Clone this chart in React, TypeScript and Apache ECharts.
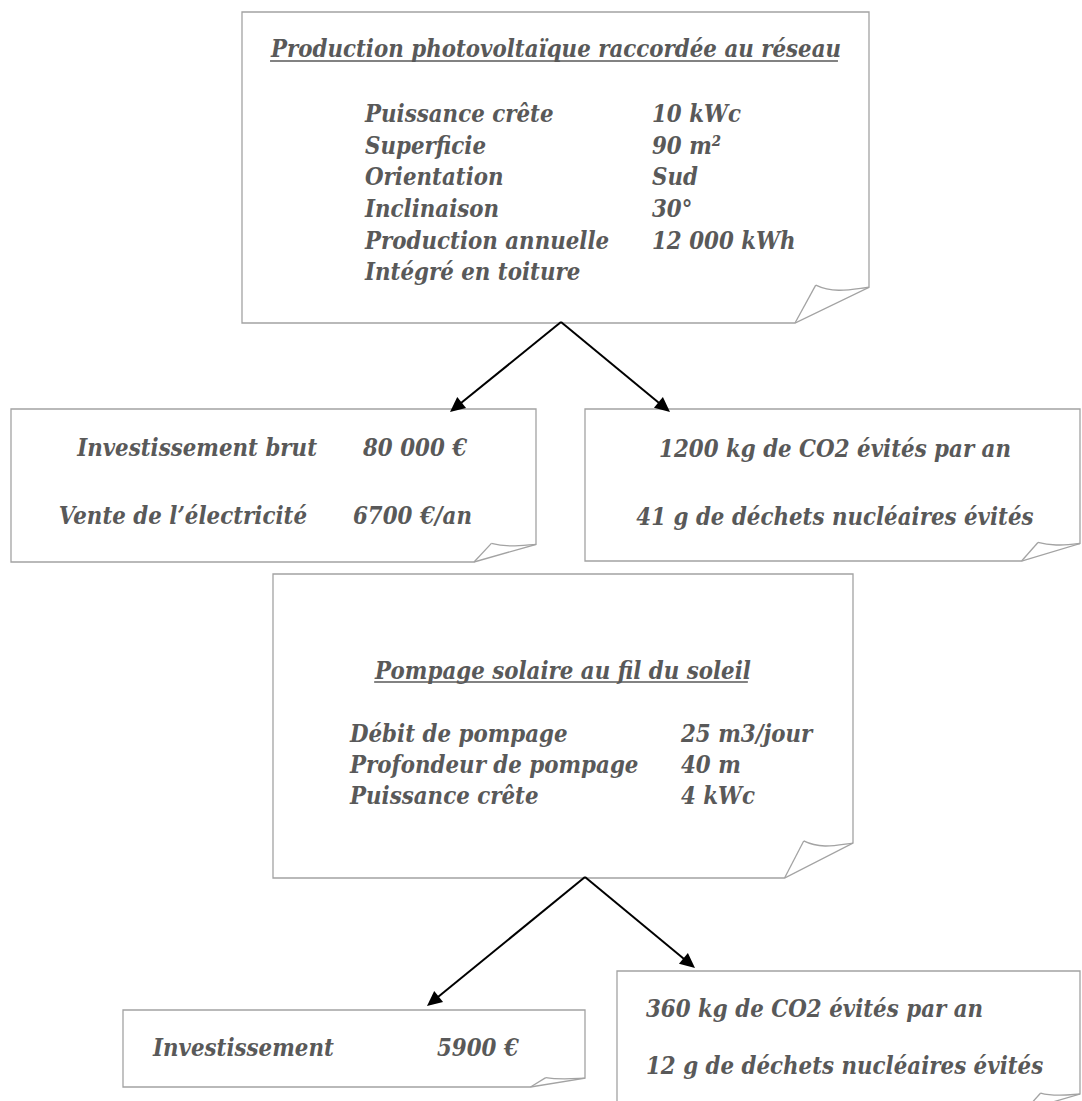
import React, { useEffect, useRef } from "react";
import * as echarts from "echarts";

// ---- content ----
const pvTitle = "Production photovoltaïque raccordée au réseau";
const pvSpecLabels = ["Puissance crête", "Superficie", "Orientation", "Inclinaison", "Production annuelle", "Intégré en toiture"];
const pvSpecValues = ["10 kWc", "90 m²", "Sud", "30°", "12 000 kWh", ""];
const pvFinanceLabels = ["Investissement brut", "Vente de l’électricité"];
const pvFinanceValues = ["80 000 €", "6700 €/an"];
const pvEnvLines = ["1200 kg de CO2 évités par an", "41 g de déchets nucléaires évités"];

const pumpTitle = "Pompage solaire au fil du soleil";
const pumpSpecLabels = ["Débit de pompage", "Profondeur de pompage", "Puissance crête"];
const pumpSpecValues = ["25 m3/jour", "40 m", "4 kWc"];
const pumpFinanceLabels = ["Investissement"];
const pumpFinanceValues = ["5900 €"];
const pumpEnvLines = ["360 kg de CO2 évités par an", "12 g de déchets nucléaires évités"];

// ---- styles ----
const FONT_FAMILY = '"DejaVu Serif", serif';
const TEXT_COLOR = "#595959";
const BORDER = "#a3a3a3";
const TALL = 1.17; // vertical stretch to mimic a taller, narrower face

function measure(text: string, size: number): number {
  const c = document.createElement("canvas");
  const ctx = c.getContext("2d") as CanvasRenderingContext2D;
  ctx.font = `italic bold ${size}px ${FONT_FAMILY}`;
  return ctx.measureText(text).width;
}

function txt(text: string, x: number, y: number, size: number, align: string = "left") {
  return {
    type: "text",
    x,
    y,
    scaleX: 1 / TALL,
    scaleY: 1,
    silent: true,
    z: 10,
    style: {
      text,
      fill: TEXT_COLOR,
      fontSize: size * TALL,
      fontFamily: FONT_FAMILY,
      fontWeight: "bold",
      fontStyle: "italic",
      align,
      verticalAlign: "middle",
      textAlign: align,
      textVerticalAlign: "middle",
    },
  };
}

function foldedBox(L: number, T: number, R: number, B: number) {
  const w = R - L;
  const h = B - T;
  const fw = w * 0.118;
  const fh = h * 0.115;
  const p0x = R - fw;
  const p0y = B;
  const ex = R;
  const ey = B - fh;
  const tx = p0x + fw * 0.28;
  const ty = B - fh * 1.06;
  const st = { stroke: BORDER, lineWidth: 1.3, fill: null };
  return [
    {
      type: "polygon",
      z: 1,
      shape: { points: [[L, T], [R, T], [ex, ey], [p0x, p0y], [L, B]] },
      style: { fill: "#ffffff", stroke: BORDER, lineWidth: 1.3 },
    },
    { type: "line", z: 2, shape: { x1: p0x, y1: p0y, x2: tx, y2: ty }, style: st },
    {
      type: "bezierCurve",
      z: 2,
      shape: {
        x1: tx,
        y1: ty,
        x2: ex,
        y2: ey,
        cpx1: tx + (ex - tx) * 0.35,
        cpy1: ty + fh * 0.25,
        cpx2: tx + (ex - tx) * 0.7,
        cpy2: ey + fh * 0.05,
      },
      style: st,
    },
  ];
}

function arrow(x1: number, y1: number, x2: number, y2: number) {
  const a = Math.atan2(y2 - y1, x2 - x1);
  const c = Math.cos(a);
  const s = Math.sin(a);
  const len = 15;
  const hw = 7;
  const bx = x2 - len * c;
  const by = y2 - len * s;
  const nx = -s;
  const ny = c;
  return [
    { type: "line", z: 5, shape: { x1, y1, x2: bx + c * 2, y2: by + s * 2 }, style: { stroke: "#000", lineWidth: 2 } },
    {
      type: "polygon",
      z: 5,
      shape: { points: [[x2, y2], [bx + nx * hw, by + ny * hw], [bx - nx * hw, by - ny * hw]] },
      style: { fill: "#000" },
    },
  ];
}

function underline(cx: number, y: number, text: string, size: number) {
  const w = measure(text, size);
  return {
    type: "line",
    z: 10,
    shape: { x1: cx - w / 2 - 1, y1: y, x2: cx + w / 2 - 3, y2: y },
    style: { stroke: TEXT_COLOR, lineWidth: 1.5 },
  };
}

function buildElements() {
  const fs = Math.min(26, (100 * 570) / measure(pvTitle, 100));
  const els: any[] = [];

  // Box 1 : photovoltaic
  els.push(...foldedBox(242, 12, 869, 323));
  els.push(txt(pvTitle, 556, 48, fs, "center"));
  els.push(underline(556, 61, pvTitle, fs));
  const rows1 = [113, 145, 176, 208, 240, 271];
  pvSpecLabels.forEach((l, i) => {
    els.push(txt(l, 365, rows1[i], fs));
    if (pvSpecValues[i]) els.push(txt(pvSpecValues[i], 652, rows1[i], fs));
  });

  els.push(...arrow(561, 322, 450, 412));
  els.push(...arrow(561, 322, 670, 412));

  // Box 2 : finance
  els.push(...foldedBox(11, 409, 536, 562));
  const rows2 = [447, 515];
  const labelEnds2 = [317, 307];
  const valStarts2 = [363, 353];
  pvFinanceLabels.forEach((l, i) => {
    els.push(txt(l, labelEnds2[i], rows2[i], fs, "right"));
    els.push(txt(pvFinanceValues[i], valStarts2[i], rows2[i], fs));
  });

  // Box 3 : environment
  els.push(...foldedBox(585, 409, 1080, 561));
  pvEnvLines.forEach((l, i) => els.push(txt(l, 835, rows2[i] + 1, fs, "center")));

  // Box 4 : pumping
  els.push(...foldedBox(273, 574, 853, 878));
  els.push(txt(pumpTitle, 563, 670, fs, "center"));
  els.push(underline(563, 682, pumpTitle, fs));
  const rows4 = [733, 764, 795];
  pumpSpecLabels.forEach((l, i) => {
    els.push(txt(l, 350, rows4[i], fs));
    els.push(txt(pumpSpecValues[i], 681, rows4[i], fs));
  });

  els.push(...arrow(585, 877, 427, 1006));
  els.push(...arrow(585, 877, 695, 968));

  // Box 5 : pumping finance
  els.push(...foldedBox(123, 1010, 585, 1087));
  pumpFinanceLabels.forEach((l, i) => {
    els.push(txt(l, 153, 1047, fs));
    els.push(txt(pumpFinanceValues[i], 437, 1047, fs));
  });

  // Box 6 : pumping environment
  els.push(...foldedBox(617, 971, 1080, 1110));
  const rows6 = [1008, 1065];
  pumpEnvLines.forEach((l, i) => els.push(txt(l, 646, rows6[i], fs)));

  return els;
}

export default function App() {
  const ref = useRef<HTMLDivElement>(null);
  useEffect(() => {
    if (!ref.current) return;
    const chart = echarts.init(ref.current, undefined, { renderer: "svg" });
    chart.setOption({
      animation: false,
      backgroundColor: "#ffffff",
      graphic: { elements: buildElements() },
    });
    return () => chart.dispose();
  }, []);
  return (
    <div
      ref={ref}
      style={{ position: "absolute", left: 0, top: 0, width: 1082, height: 1101, overflow: "hidden" }}
    />
  );
}
